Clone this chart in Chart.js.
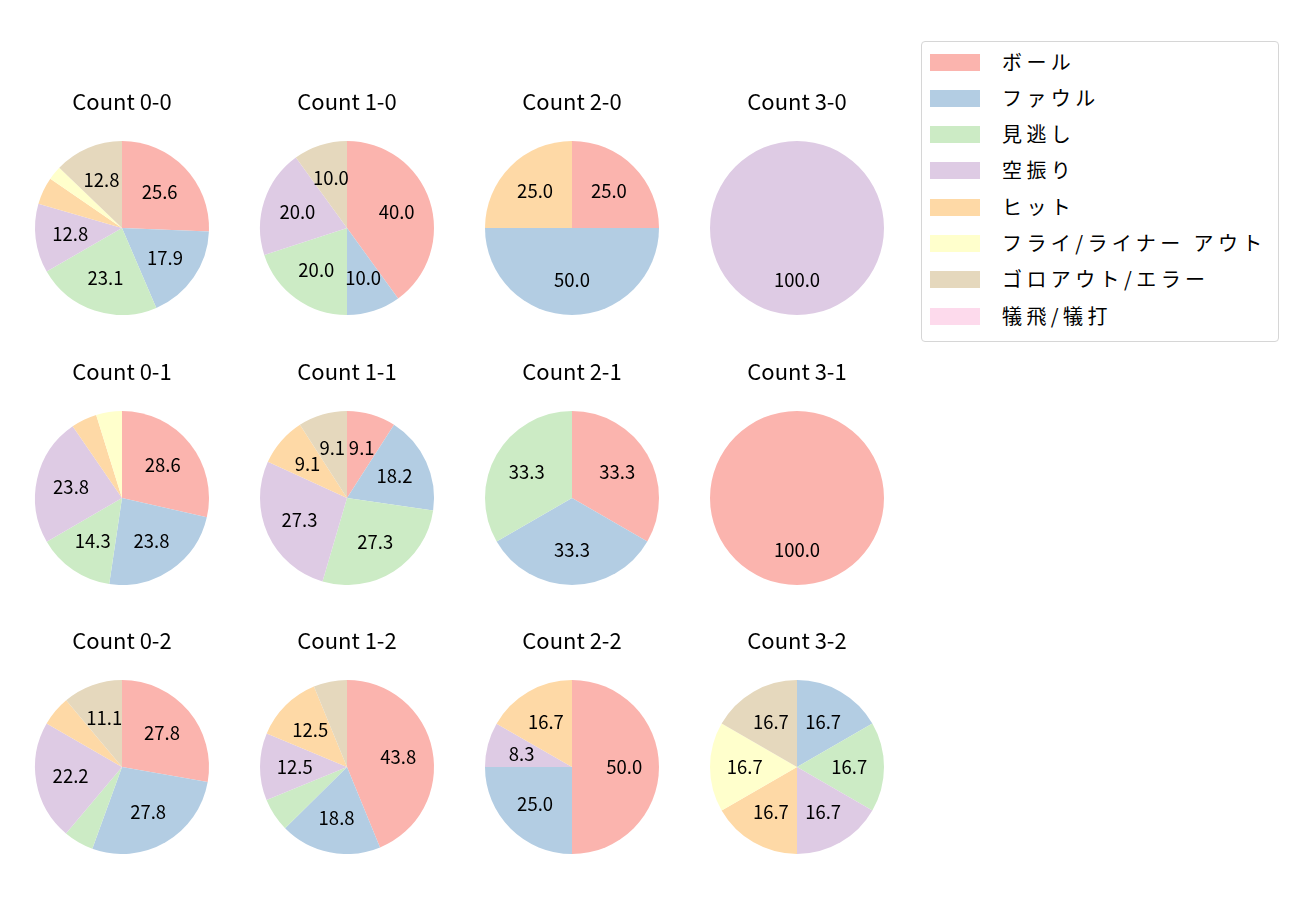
<!DOCTYPE html>
<html>
<head>
<meta charset="utf-8">
<script src="https://cdn.jsdelivr.net/npm/chart.js@4.4.1/dist/chart.umd.min.js"></script>
<style>
  body { margin: 0; background: #fff; width: 1300px; height: 900px; position: relative; overflow: hidden; font-family: "Noto Sans CJK JP", sans-serif; }
  .pie { position: absolute; width: 220px; height: 234px; }
  #legend { position: absolute; left: 921px; top: 41px; width: 358px; height: 301px; border: 1px solid #d6d6d6; border-radius: 4px; box-sizing: border-box; }
  .item { position: absolute; left: 0; height: 30px; width: 100%; }
  .swatch { position: absolute; left: 8px; top: 6px; width: 50px; height: 17px; }
  .label { position: absolute; left: 80px; top: -1px; line-height: 30px; font-size: 20px; letter-spacing: 4.4px; color: #000; white-space: nowrap; }
</style>
</head>
<body>
<div id="legend"></div>
<script>
  // Result categories and colours (Pastel1)
  const results = ["ボール", "ファウル", "見逃し", "空振り", "ヒット", "フライ/ライナー アウト", "ゴロアウト/エラー", "犠飛/犠打"];
  const colors = ["#fbb4ae", "#b3cde3", "#ccebc5", "#decbe4", "#fed9a6", "#ffffcc", "#e5d8bd", "#fddaec"];

  // Share of each result (%) per ball-strike count
  const count00 = [25.6, 17.9, 23.1, 12.8, 5.1, 2.6, 12.8, 0];
  const count10 = [40.0, 10.0, 20.0, 20.0, 0, 0, 10.0, 0];
  const count20 = [25.0, 50.0, 0, 0, 25.0, 0, 0, 0];
  const count30 = [0, 0, 0, 100.0, 0, 0, 0, 0];
  const count01 = [28.6, 23.8, 14.3, 23.8, 4.8, 4.8, 0, 0];
  const count11 = [9.1, 18.2, 27.3, 27.3, 9.1, 0, 9.1, 0];
  const count21 = [33.3, 33.3, 33.3, 0, 0, 0, 0, 0];
  const count31 = [100.0, 0, 0, 0, 0, 0, 0, 0];
  const count02 = [27.8, 27.8, 5.6, 22.2, 5.6, 0, 11.1, 0];
  const count12 = [43.8, 18.8, 6.2, 12.5, 12.5, 0, 6.2, 0];
  const count22 = [50.0, 25.0, 0, 8.3, 16.7, 0, 0, 0];
  const count32 = [0, 16.7, 16.7, 16.7, 16.7, 16.7, 16.7, 0];

  const titles = ["Count 0-0", "Count 1-0", "Count 2-0", "Count 3-0",
                  "Count 0-1", "Count 1-1", "Count 2-1", "Count 3-1",
                  "Count 0-2", "Count 1-2", "Count 2-2", "Count 3-2"];
  const series = [count00, count10, count20, count30,
                  count01, count11, count21, count31,
                  count02, count12, count22, count32];

  // grid placement of pie centres
  const colX = [122, 347, 572, 797];
  const rowY = [228, 498, 767];

  // percentage labels at 0.6 of the radius, hidden for tiny slices
  const pctLabels = {
    id: "pctLabels",
    afterDatasetsDraw(chart) {
      const ctx = chart.ctx;
      const meta = chart.getDatasetMeta(0);
      const vals = chart.data.datasets[0].data;
      const total = vals.reduce((a, b) => a + b, 0);
      ctx.save();
      ctx.font = "18.5px 'Noto Sans CJK JP'";
      ctx.fillStyle = "#000";
      ctx.textAlign = "center";
      ctx.textBaseline = "middle";
      meta.data.forEach((arc, i) => {
        const pct = vals[i] / total * 100;
        if (pct < 7) return;
        const p = arc.getProps(["x", "y", "startAngle", "endAngle", "outerRadius"], true);
        const mid = (p.startAngle + p.endAngle) / 2;
        const r = p.outerRadius * 0.6;
        ctx.fillText(pct.toFixed(1), p.x + Math.cos(mid) * r, p.y + Math.sin(mid) * r);
      });
      ctx.restore();
    }
  };

  series.forEach((vals, k) => {
    const cx = colX[k % 4];
    const cy = rowY[Math.floor(k / 4)];
    const box = document.createElement("div");
    box.className = "pie";
    box.style.left = (cx - 110) + "px";
    box.style.top = (cy - 147) + "px";
    const canvas = document.createElement("canvas");
    box.appendChild(canvas);
    document.body.appendChild(box);

    new Chart(canvas, {
      type: "pie",
      data: {
        labels: results,
        datasets: [{
          data: vals,
          backgroundColor: colors,
          borderWidth: 0,
          hoverOffset: 0
        }]
      },
      options: {
        responsive: true,
        maintainAspectRatio: false,
        animation: false,
        events: [],
        layout: { padding: { left: 23, right: 23, top: 0, bottom: 0 } },
        plugins: {
          legend: { display: false },
          tooltip: { enabled: false },
          title: {
            display: true,
            text: titles[k],
            color: "#000",
            font: { family: "'Noto Sans CJK JP'", size: 22, weight: "normal" },
            padding: { top: 7.3, bottom: 26.3 }
          }
        }
      },
      plugins: [pctLabels]
    });
  });

  // legend
  const legend = document.getElementById("legend");
  results.forEach((name, i) => {
    const item = document.createElement("div");
    item.className = "item";
    item.style.top = (5.5 + 36.3 * i) + "px";
    item.innerHTML = '<div class="swatch" style="background:' + colors[i] + '"></div><div class="label">' + name + '</div>';
    legend.appendChild(item);
  });
</script>
</body>
</html>
